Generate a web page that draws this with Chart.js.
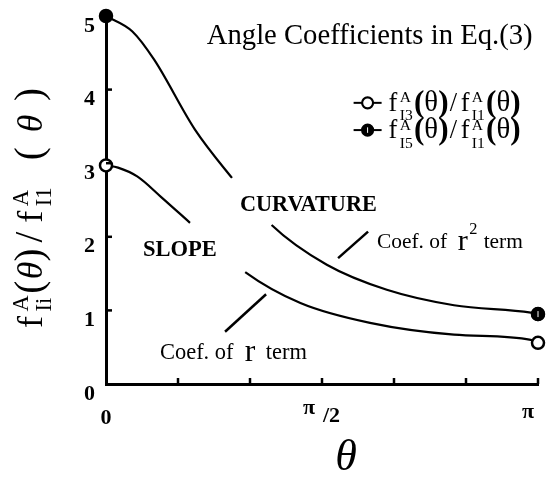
<!DOCTYPE html>
<html>
<head>
<meta charset="utf-8">
<script src="https://cdn.jsdelivr.net/npm/chart.js@4"></script>
<style>
  html, body { margin: 0; padding: 0; background: #fff; }
  #wrap { width: 547px; height: 477px; position: relative; }
</style>
</head>
<body>
<div id="wrap"><canvas id="chart" width="547" height="477"></canvas></div>
<script>
// angulo theta en grados (0..180 equivale a 0..pi)
const thetaSlope = [0, 5, 13, 23, 35, 58, 81, 110, 145, 177, 180];
const ratioSlope = [2.97, 2.94, 2.82, 2.54, 2.19, 1.52, 1.10, 0.83, 0.67, 0.60, 0.56];
const thetaCurv = [0, 11, 20, 37, 52.5, 69, 92, 117, 145, 177, 180];
const ratioCurv = [5.0, 4.79, 4.41, 3.46, 2.80, 2.16, 1.62, 1.28, 1.07, 0.97, 0.95];
// huecos de la curva donde van las etiquetas
const gapSlope = [[35, 58]];
const gapCurv = [[52.5, 69]];
const yTicks = [0, 1, 2, 3, 4, 5];
const xTicks = [0, 30, 60, 90, 120, 150, 180];
const xTickLabels = { 0: "0", 90: "π/2", 180: "π" };

const SERIF = "'Liberation Serif', 'Times New Roman', serif";

const toPoints = (xs, ys) => xs.map((x, i) => ({ x: x, y: ys[i] }));
const inGap = (x, gaps) => gaps.some(g => x >= g[0] && x < g[1]);
const endRadius = (n) => (ctx) => (ctx.dataIndex === 0 || ctx.dataIndex === n - 1) ? 6 : 0;

const fontOf = (p, k) => (p.italic ? "italic " : "") + (p.bold ? "bold " : "") + (p.size * k) + "px " + SERIF;

// texto con super/subindices; k escala todos los tamanos. devuelve el ancho
const drawRich = (ctx, parts, x, y, k, measureOnly) => {
  let cx = x;
  parts.forEach(p => {
    ctx.font = fontOf(p, k);
    let w;
    if (p.sup !== undefined) {
      w = Math.max(ctx.measureText(p.sup).width, ctx.measureText(p.sub).width);
      if (!measureOnly) {
        ctx.fillText(p.sup, cx, y - p.supDy * k);
        ctx.fillText(p.sub, cx, y + p.subDy * k);
      }
    } else {
      w = ctx.measureText(p.t).width;
      if (!measureOnly) ctx.fillText(p.t, cx, y + (p.dy || 0) * k);
    }
    cx += w + (p.gap || 0) * k;
  });
  return cx - x;
};
const fitScale = (ctx, parts, target) => target / drawRich(ctx, parts, 0, 0, 1, true);

const ratioParts = (idx) => [
  { t: "f", size: 22, gap: 2 },
  { sup: "A", sub: idx, size: 13, supDy: 7, subDy: 8, gap: 1 },
  { t: "(", size: 26, bold: true, dy: 1 },
  { t: "θ", size: 24 },
  { t: ")", size: 26, bold: true, dy: 1, gap: 1 },
  { t: "/", size: 22, gap: 3 },
  { t: "f", size: 22, gap: 2 },
  { sup: "A", sub: "I1", size: 13, supDy: 7, subDy: 8, gap: 1 },
  { t: "(", size: 26, bold: true, dy: 1 },
  { t: "θ", size: 24 },
  { t: ")", size: 26, bold: true, dy: 1 }
];

const yLabelParts = [
  { t: "f", size: 24, gap: 3 },
  { sup: "A", sub: "Ii", size: 15, supDy: 9, subDy: 6, gap: 1 },
  { t: "(", size: 26, gap: 1 },
  { t: "θ", size: 24, italic: true },
  { t: ")", size: 26, gap: 4 },
  { t: "/", size: 26, gap: 6 },
  { t: "f", size: 24, gap: 3 },
  { sup: "A", sub: "I1", size: 15, supDy: 9, subDy: 6, gap: 18 },
  { t: "(", size: 26, gap: 10 },
  { t: "θ", size: 24, italic: true, gap: 9 },
  { t: ")", size: 26 }
];

const coefParts = (sup) => [
  { t: "Coef. of  ", size: 17 },
  { t: "r", size: 24, gap: 1 },
  { t: sup, size: 13, dy: -10, gap: sup ? 5 : 7 },
  { t: "term", size: 17 }
];

// posiciones de textos (en unidades de datos) y anchos de referencia
const notes = {
  title: { parts: [{ t: "Angle Coefficients in Eq.(3)", size: 22 }], x: 42, y: 4.72, w: 326 },
  curvature: { parts: [{ t: "CURVATURE", size: 19, bold: true }], x: 55.8, y: 2.43, w: 137 },
  slope: { parts: [{ t: "SLOPE", size: 19, bold: true }], x: 15.4, y: 1.82, w: 74 },
  coefR2: { parts: coefParts("2"), x: 112.9, y: 1.93, w: 146 },
  coefR: { parts: coefParts(""), x: 22.5, y: 0.42, w: 147 }
};
const leaders = [[[96.7, 1.71], [109.2, 2.07]], [[49.6, 0.71], [66.7, 1.22]]];
const legendItems = [{ x: 109, y: 3.82, idx: "I3", open: true }, { x: 109, y: 3.45, idx: "I5", open: false }];

const drawMarker = (ctx, x, y, open, r) => {
  ctx.beginPath();
  ctx.arc(x, y, r, 0, Math.PI * 2);
  ctx.fillStyle = open ? "#fff" : "#000";
  ctx.fill();
  ctx.strokeStyle = "#000";
  ctx.lineWidth = 2.2;
  ctx.stroke();
  if (!open) {
    ctx.strokeStyle = "#fff";
    ctx.lineWidth = 1;
    ctx.beginPath();
    ctx.moveTo(x, y - r / 2);
    ctx.lineTo(x, y + r / 2);
    ctx.stroke();
  }
};

const decorPlugin = {
  id: "decor",
  afterDraw(chart) {
    const ctx = chart.ctx;
    const xs = chart.scales.x;
    const ys = chart.scales.y;
    const area = chart.chartArea;
    const px = (v) => xs.getPixelForValue(v);
    const py = (v) => ys.getPixelForValue(v);
    ctx.save();
    ctx.fillStyle = "#000";
    ctx.strokeStyle = "#000";

    // marca blanca en el punto final relleno
    const metaCurv = chart.getDatasetMeta(1).data;
    const lastPt = metaCurv[metaCurv.length - 1];
    drawMarker(ctx, lastPt.x, lastPt.y, false, 6);
    ctx.fillStyle = "#000";
    ctx.strokeStyle = "#000";

    // marcas hacia adentro
    ctx.lineWidth = 2.5;
    xTicks.slice(1).forEach(t => {
      ctx.beginPath();
      ctx.moveTo(px(t), area.bottom);
      ctx.lineTo(px(t), area.bottom - 6);
      ctx.stroke();
    });
    yTicks.slice(1).forEach(t => {
      ctx.beginPath();
      ctx.moveTo(area.left, py(t));
      ctx.lineTo(area.left + 6, py(t));
      ctx.stroke();
    });

    // etiquetas de los ejes
    ctx.font = "bold 22px " + SERIF;
    ctx.textAlign = "right";
    ctx.textBaseline = "middle";
    yTicks.forEach(t => ctx.fillText(String(t), area.left - 11, py(t) + 10));

    ctx.textAlign = "center";
    ctx.fillText(xTickLabels[0], px(0), area.bottom + 34);
    ctx.textAlign = "left";
    ctx.fillText("π", px(90) - 19, area.bottom + 24);
    ctx.fillText("/2", px(90) + 1, area.bottom + 32);
    ctx.textAlign = "center";
    ctx.fillText(xTickLabels[180], px(180) - 10, area.bottom + 28);

    ctx.font = "italic 44px " + SERIF;
    ctx.fillText("θ", px(100), area.bottom + 74);

    // titulo del eje y (rotado)
    ctx.save();
    ctx.textAlign = "left";
    ctx.textBaseline = "alphabetic";
    const ky = fitScale(ctx, yLabelParts, 240);
    ctx.translate(42, 208);
    ctx.rotate(-Math.PI / 2);
    drawRich(ctx, yLabelParts, -120, 0, ky, false);
    ctx.restore();

    // textos
    ctx.textAlign = "left";
    ctx.textBaseline = "middle";
    Object.values(notes).forEach(n => {
      const k = fitScale(ctx, n.parts, n.w);
      drawRich(ctx, n.parts, px(n.x), py(n.y), k, false);
    });

    // lineas guia
    ctx.lineWidth = 2.5;
    leaders.forEach(l => {
      ctx.beginPath();
      ctx.moveTo(px(l[0][0]), py(l[0][1]));
      ctx.lineTo(px(l[1][0]), py(l[1][1]));
      ctx.stroke();
    });

    // leyenda
    ctx.textBaseline = "alphabetic";
    legendItems.forEach(l => {
      const lx = px(l.x);
      const ly = py(l.y);
      ctx.strokeStyle = "#000";
      ctx.lineWidth = 2;
      ctx.beginPath();
      ctx.moveTo(lx - 14, ly);
      ctx.lineTo(lx + 14, ly);
      ctx.stroke();
      drawMarker(ctx, lx, ly, l.open, 5.5);
      ctx.fillStyle = "#000";
      drawRich(ctx, ratioParts(l.idx), lx + 21, ly + 8, 1.2, false);
    });

    ctx.restore();
  }
};

const lineDataset = (xs, ys, gaps, open) => ({
  data: toPoints(xs, ys),
  borderColor: "#000",
  borderWidth: 2.2,
  cubicInterpolationMode: "monotone",
  clip: false,
  pointRadius: endRadius(xs.length),
  pointHoverRadius: endRadius(xs.length),
  pointBorderWidth: 2.5,
  pointBorderColor: "#000",
  pointBackgroundColor: open ? "#fff" : "#000",
  segment: {
    borderColor: (ctx) => inGap(ctx.p0.parsed.x, gaps) ? "rgba(0,0,0,0)" : "#000"
  }
});

new Chart(document.getElementById("chart"), {
  type: "line",
  data: {
    datasets: [
      lineDataset(thetaSlope, ratioSlope, gapSlope, true),
      lineDataset(thetaCurv, ratioCurv, gapCurv, false)
    ]
  },
  options: {
    responsive: false,
    animation: false,
    devicePixelRatio: 1,
    layout: { padding: { left: 98, right: 9, top: 16, bottom: 85 } },
    plugins: { legend: { display: false }, tooltip: { enabled: false } },
    scales: {
      x: {
        type: "linear",
        min: 0,
        max: 180,
        ticks: { display: false, stepSize: 30 },
        grid: { display: false },
        border: { display: true, color: "#000", width: 3 }
      },
      y: {
        min: 0,
        max: 5,
        ticks: { display: false, stepSize: 1 },
        grid: { display: false },
        border: { display: true, color: "#000", width: 3 }
      }
    }
  },
  plugins: [decorPlugin]
});
</script>
</body>
</html>
